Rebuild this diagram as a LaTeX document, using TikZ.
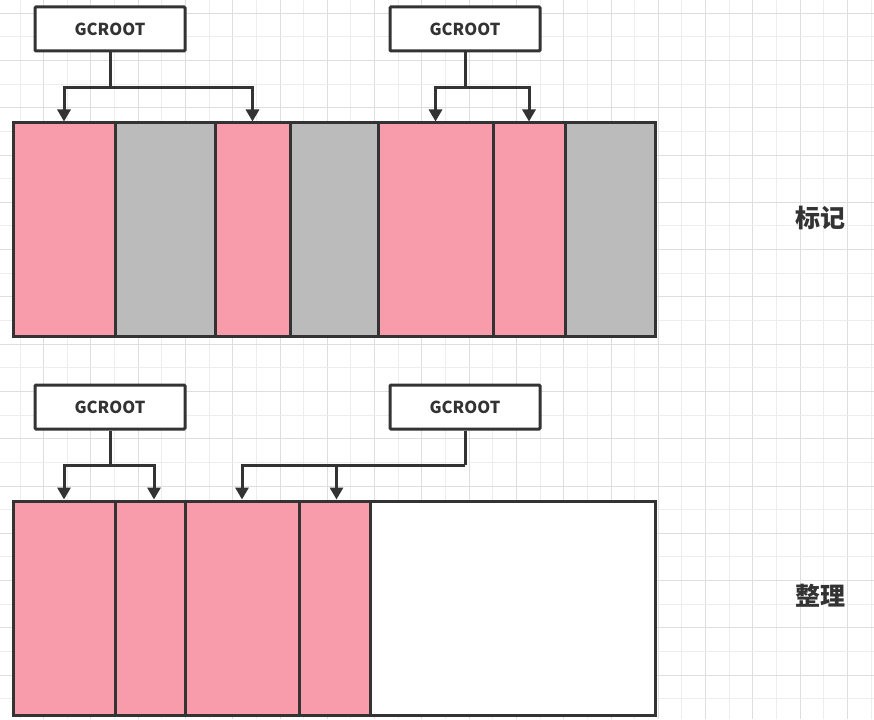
\documentclass[tikz,border=0pt]{standalone}
\usepackage{fontspec}
\newfontfamily\cjk{Noto Sans CJK SC}
\usepackage{tikz}
\usetikzlibrary{arrows.meta}
\definecolor{live}{HTML}{F89CAC}
\definecolor{dead}{HTML}{BBBBBB}
\definecolor{ink}{HTML}{333333}
\definecolor{gridminor}{HTML}{EDEDED}
\definecolor{gridmajor}{HTML}{DEDEDE}

\begin{document}
\begin{tikzpicture}[x=1pt,y=-1pt]
\tikzstyle{every node}+=[inner sep=0pt]
\tikzstyle{cell}=[draw=ink, line width=3pt, rectangle]
\tikzstyle{root}=[draw=ink, fill=white, line width=3pt, rounded corners=1pt, minimum width=150, minimum height=44, font=\cjk\bfseries\fontsize{16.5}{16.5}\selectfont, text=ink]
\tikzstyle{link}=[draw=ink, line width=3pt]
\tikzstyle{arr}=[draw=ink, line width=3pt, -{Triangle[width=13pt,length=12pt]}]
\useasboundingbox (0,0) rectangle (874,719);
\fill [white] (0,0) rectangle (874,719);
\foreach \k in {0,...,36} {
  \pgfmathsetmacro{\gx}{20+23.64*\k}
  \ifodd\k
    \draw [gridmajor, line width=1pt] (\gx,0) -- (\gx,719);
  \else
    \draw [gridminor, line width=1pt] (\gx,0) -- (\gx,719);
  \fi
}
\foreach \k in {0,...,29} {
  \pgfmathsetmacro{\gy}{13.2+23.64*\k}
  \ifodd\k
    \draw [gridminor, line width=1pt] (0,\gy) -- (874,\gy);
  \else
    \draw [gridmajor, line width=1pt] (0,\gy) -- (874,\gy);
  \fi
}
\node [cell, fill=live, minimum width=102, minimum height=213] (a1) at (64,229.5) {};
\node [cell, fill=dead, minimum width=100, minimum height=213] (a2) at (165,229.5) {};
\node [cell, fill=live, minimum width=75, minimum height=213] (a3) at (252.5,229.5) {};
\node [cell, fill=dead, minimum width=88, minimum height=213] (a4) at (334,229.5) {};
\node [cell, fill=live, minimum width=115, minimum height=213] (a5) at (435.5,229.5) {};
\node [cell, fill=live, minimum width=72, minimum height=213] (a6) at (529,229.5) {};
\node [cell, fill=dead, minimum width=90, minimum height=213] (a7) at (610,229.5) {};
\node [root] (r1) at (110,29) {\raisebox{-1pt}{GCROOT}};
\node [root] (r2) at (465,29) {\raisebox{-1pt}{GCROOT}};
\coordinate (j1) at (110,88);
\coordinate (j2) at (465,88);
\draw [link] (r1.south) -- (j1);
\draw [arr] (j1) -| (a1.north);
\draw [arr] (j1) -| (a3.north);
\draw [link] (r2.south) -- (j2);
\draw [arr] (j2) -| (a5.north);
\draw [arr] (j2) -| (a6.north);
\node [font=\cjk\bfseries\fontsize{25}{25}\selectfont, text=ink] (mark) at (820,218) {标记};
\node [cell, fill=live, minimum width=102, minimum height=214] (b1) at (64,608) {};
\node [cell, fill=live, minimum width=70, minimum height=214] (b2) at (150,608) {};
\node [cell, fill=live, minimum width=114, minimum height=214] (b3) at (242,608) {};
\node [cell, fill=live, minimum width=71, minimum height=214] (b4) at (334.5,608) {};
\node [cell, fill=white, minimum width=285, minimum height=214] (b5) at (512.5,608) {};
\node [root] (r3) at (110,407) {\raisebox{-1pt}{GCROOT}};
\node [root] (r4) at (465,407) {\raisebox{-1pt}{GCROOT}};
\coordinate (j3) at (110,465);
\coordinate (j4) at (465,465);
\draw [link] (r3.south) -- (j3);
\draw [arr] (j3) -| (b1.north);
\draw [arr] (j3) -| ([xshift=4]b2.north);
\draw [link] (r4.south) -- (j4);
\draw [arr] (j4) -| (b3.north);
\draw [arr] (j4) -| ([xshift=2]b4.north);
\node [font=\cjk\bfseries\fontsize{25}{25}\selectfont, text=ink] (tidy) at (820,596) {整理};
\end{tikzpicture}
\end{document}
